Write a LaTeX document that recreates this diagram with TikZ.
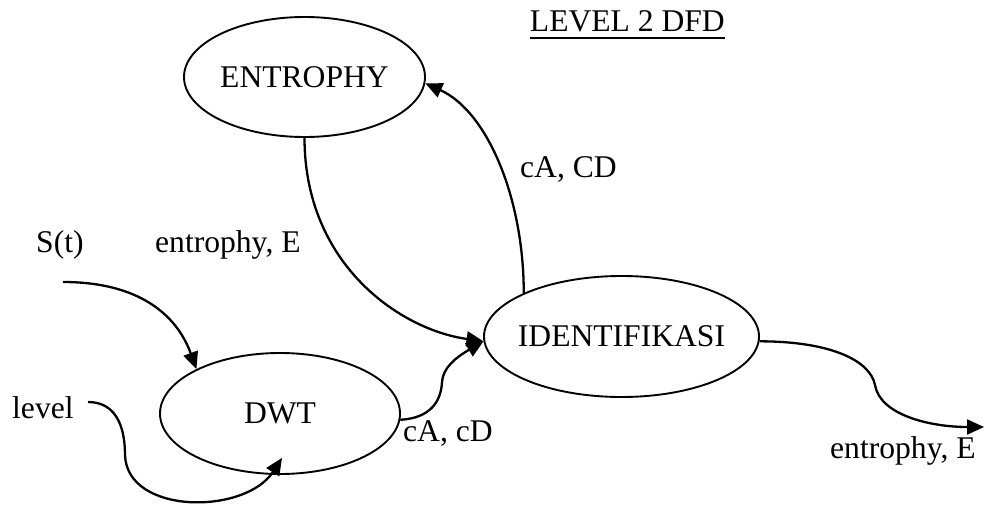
\documentclass[tikz,border=0pt]{standalone}
\usepackage{fontspec}
\setmainfont{Liberation Serif}
\usetikzlibrary{shapes.geometric,arrows.meta}
\begin{document}
\begin{tikzpicture}[x=1pt,y=-1pt,
  font=\fontsize{31.6}{38}\selectfont,
  process/.style={ellipse,draw,line width=1.9pt,inner sep=0pt},
  flow/.style={line width=2.3pt,-{Triangle[length=17pt,width=15pt]}},
  lbl/.style={inner sep=0pt,anchor=base west}]
\useasboundingbox (0,0) rectangle (984,505);

% processes
\node[process,minimum width=241pt,minimum height=120pt] (ent) at (304.5,77) {\makebox[0pt]{ENTROPHY}};
\node[process,minimum width=240pt,minimum height=121pt] (dwt) at (280,413.5) {\makebox[0pt]{DWT}};
\node[process,minimum width=275pt,minimum height=121pt] (idf) at (621.5,336.5) {\makebox[0pt]{IDENTIFIKASI}};

% title
\node[inner sep=0pt,anchor=base east] (title) at (725,32) {LEVEL 2 DFD};
\draw[line width=2.2pt] ([yshift=-6pt]title.base west) -- ([yshift=-6pt]title.base east);

% flow labels
\node[lbl] (st) at (36,252) {S(t)};
\node[lbl] (ein) at (155,252) {entrophy, E};
\node[lbl] (cacd1) at (520,178) {cA, CD};
\node[lbl] (lv) at (12,418) {level};
\node[lbl] (cacd2) at (403,441) {cA, cD};
\node[lbl] (eo) at (830,458) {entrophy, E};

% free ends of the external flows
\coordinate (sin) at (63,282);
\coordinate (lvin) at (88,402);
\coordinate (eout) at (984,427);

% flows
\draw[flow] (sin) .. controls +(75,0) and +(-20,-55) .. (dwt.152);
\draw[flow] (lvin) .. controls (115,402) and (125,425) .. (125,455)
  .. controls (127,515) and (245,515) .. ([shift={(2,-17)}]dwt.south);
\draw[flow] (dwt.-3) .. controls (430,418) and (441,402) .. (442,382)
  .. controls (443,368) and (455,358) .. (idf.182);
\draw[flow] (ent.south) .. controls +(0,125) and +(-85,-12) .. (idf.182);
\draw[flow] (idf.156) .. controls +(0,-95) and +(62,28) .. (ent.-3);
\draw[flow] (idf.-2) .. controls +(70,0) and (870,360) .. (875,385)
  .. controls (880,415) and (930,427) .. (eout);
\end{tikzpicture}
\end{document}
